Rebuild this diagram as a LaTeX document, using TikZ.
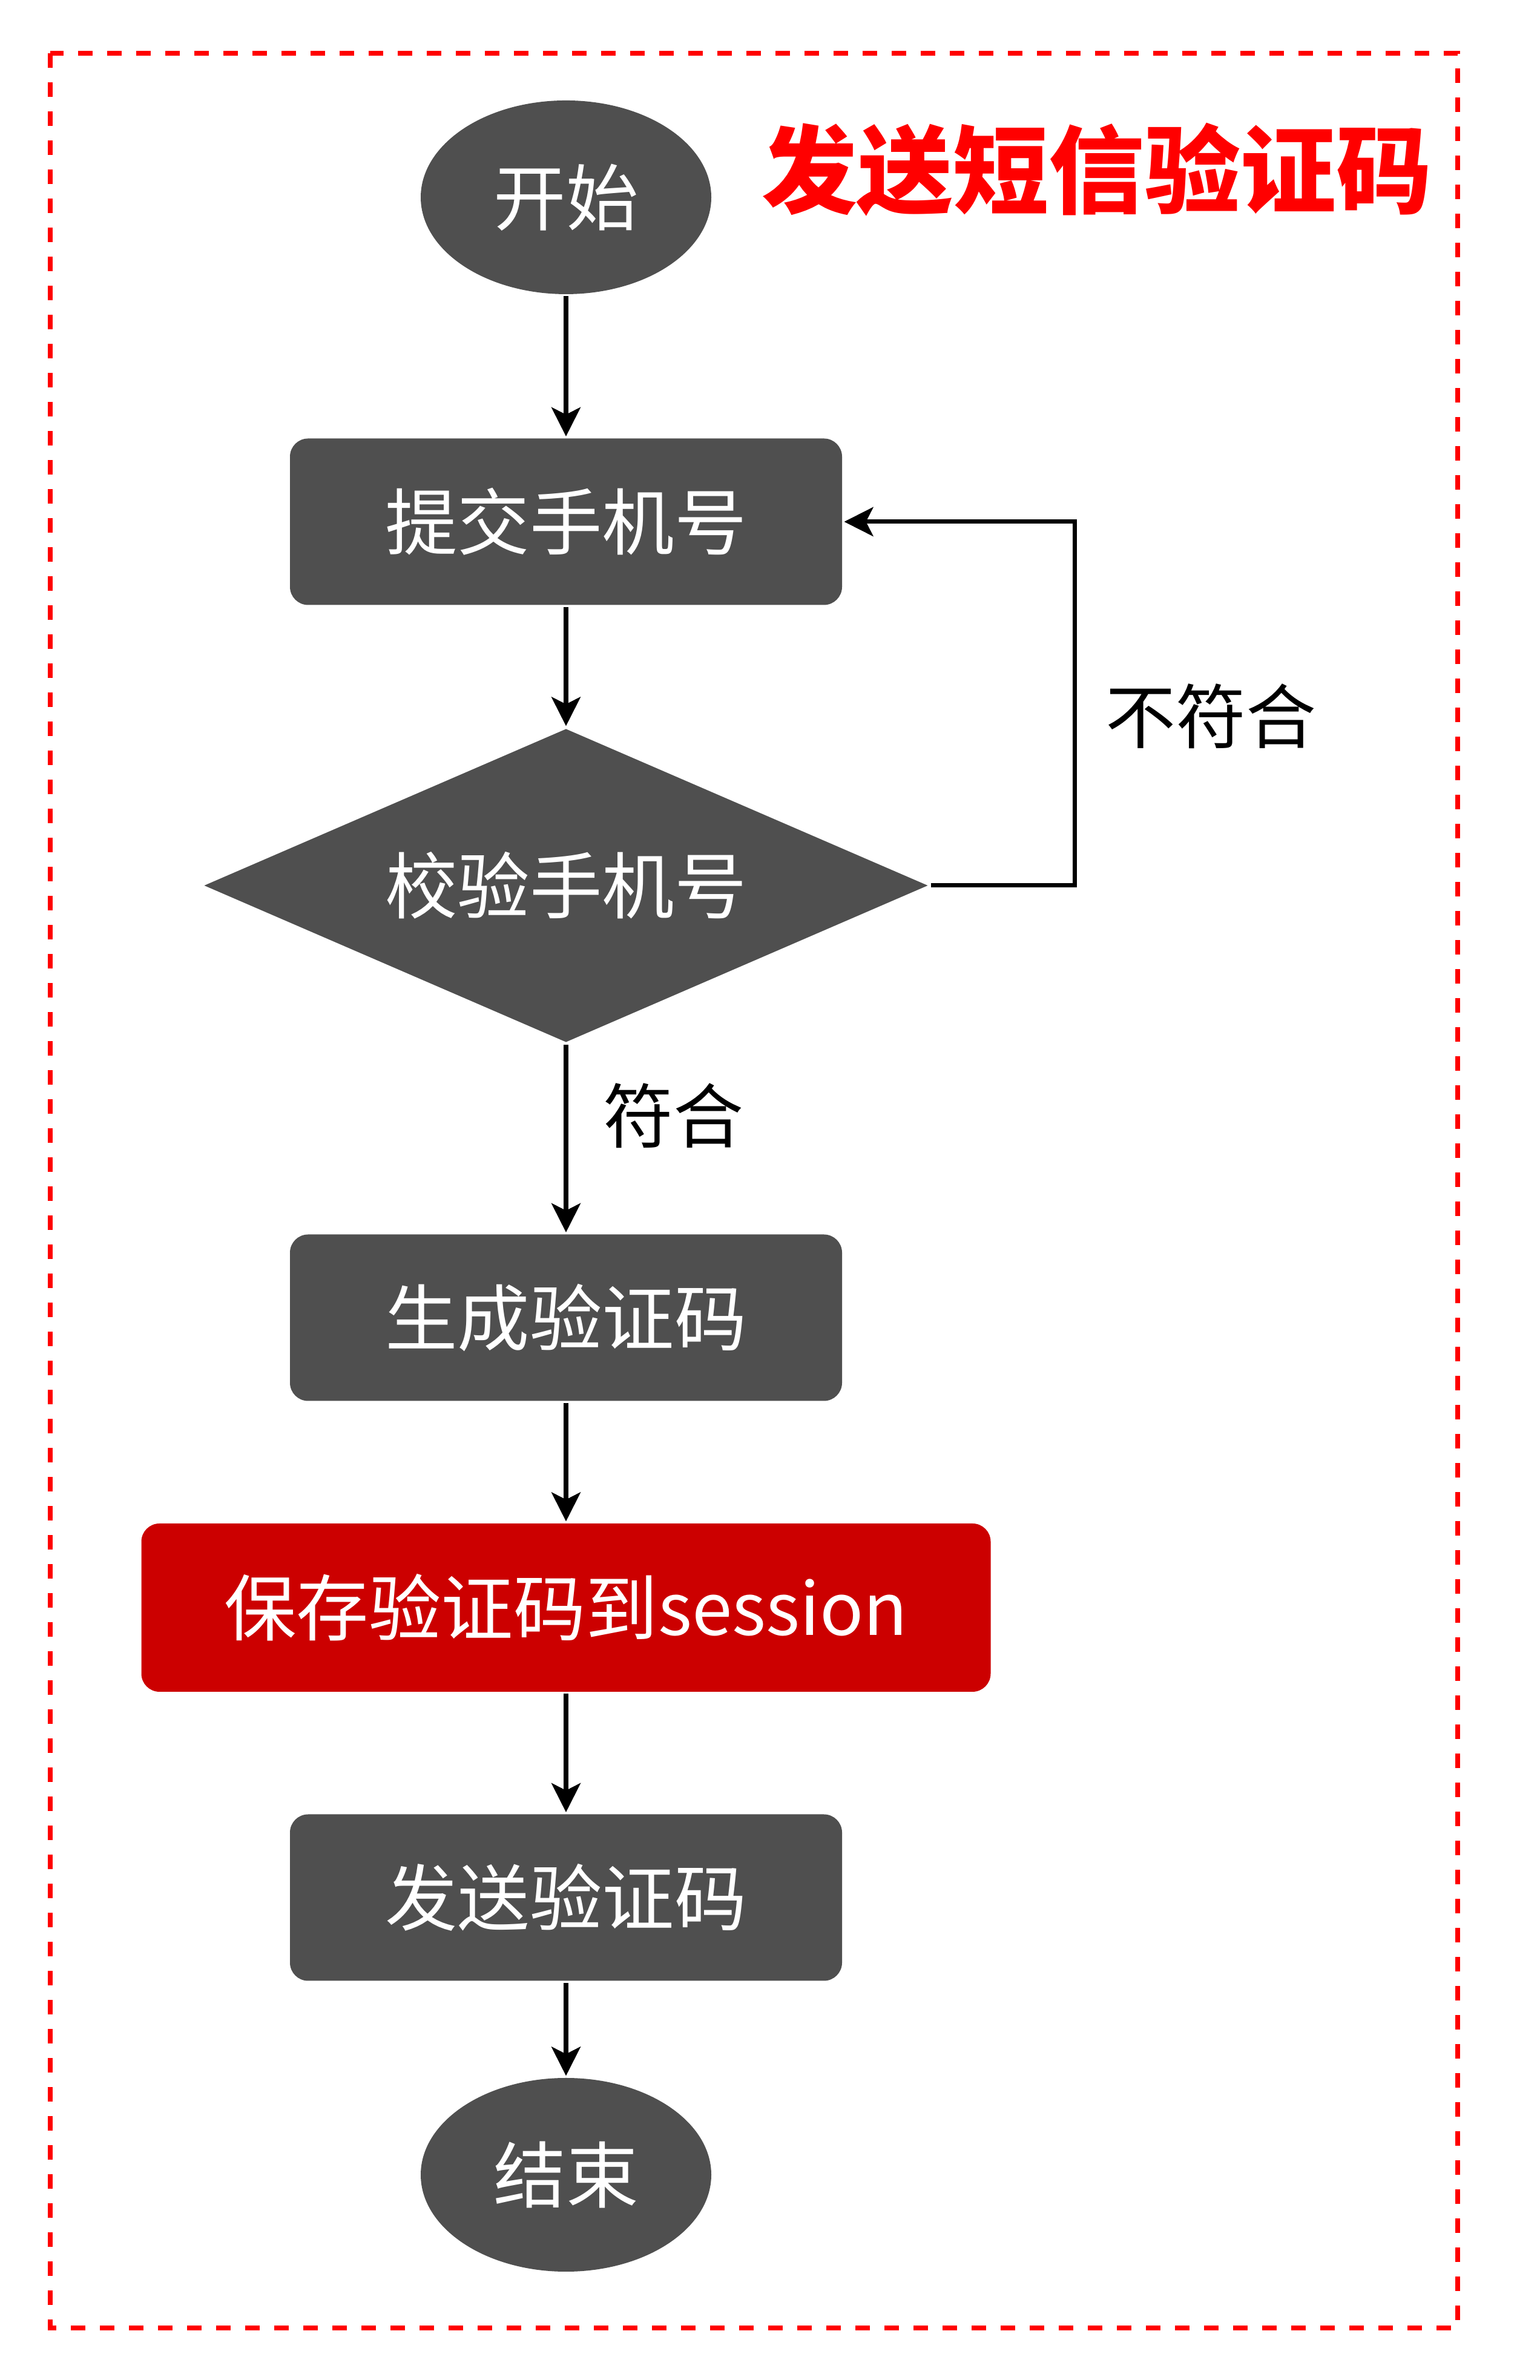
\documentclass[tikz,border=0pt]{standalone}
\usepackage{fontspec}
\setmainfont{Noto Sans CJK SC}
\usetikzlibrary{shapes.geometric,arrows.meta}
\definecolor{boxgray}{HTML}{4F4F4F}
\definecolor{savered}{HTML}{CC0000}

\begin{document}
\begin{tikzpicture}[font=\fontsize{34}{40}\selectfont, line width=2pt, >={Stealth[length=0.48cm, width=0.48cm, inset=0.12cm]},
    terminal/.style={ellipse, fill=boxgray, text=white, minimum width=4.8cm, minimum height=3.2cm, inner sep=0pt},
    stepbox/.style={rectangle, rounded corners=0.3cm, fill=boxgray, text=white, minimum width=9.12cm, minimum height=2.75cm},
    check/.style={diamond, shape aspect=2.3, fill=boxgray, text=white, minimum width=11.98cm, minimum height=5.2cm, inner sep=0pt}]
  \useasboundingbox (0,0) rectangle (25.44,39.32);
  \draw[red, line width=0.08cm, dash pattern=on 0.24cm off 0.24cm] (0.83,38.44) rectangle (24.08,0.86);

  \node[text=red, font=\fontsize{45}{54}\selectfont\bfseries] (title) at (18.12,36.52) {发送短信验证码};

  \node[terminal] (start) at (9.35,36.06) {开始};
  \node[stepbox] (submit) at (9.35,30.70) {提交手机号};
  \node[check] (verify) at (9.35,24.69) {校验手机号};
  \node[stepbox] (gen) at (9.35,17.55) {生成验证码};
  \node[stepbox, fill=savered, minimum width=14.03cm, minimum height=2.78cm] (save) at (9.35,12.76) {保存验证码到session};
  \node[stepbox] (send) at (9.35,7.97) {发送验证码};
  \node[terminal] (stop) at (9.35,3.39) {结束};

  \coordinate (loop) at (17.75,24.69);
  \node[font=\fontsize{33}{40}\selectfont] (nomatch) at (20.00,27.49) {不符合};
  \node[font=\fontsize{33}{40}\selectfont] (match) at (11.12,20.89) {符合};

  \draw[->] (start.south) -- (submit.north);
  \draw[->] (submit.south) -- (verify.north);
  \draw[->] (verify.east) -- (loop) |- (submit.east);
  \draw[->] (verify.south) -- (gen.north);
  \draw[->] (gen.south) -- (save.north);
  \draw[->] (save.south) -- (send.north);
  \draw[->] (send.south) -- (stop.north);
\end{tikzpicture}
\end{document}
